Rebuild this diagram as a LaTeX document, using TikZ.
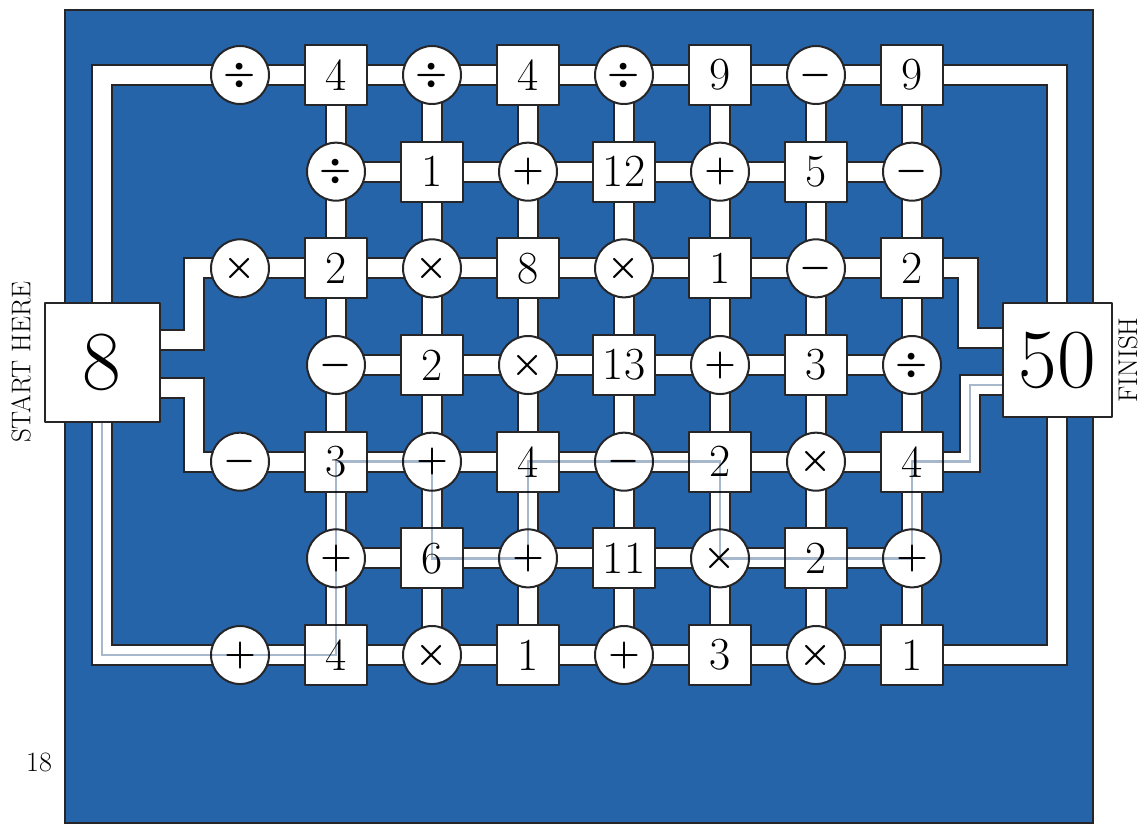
\RequirePackage{fix-cm}
\documentclass[tikz,border=0pt]{standalone}
\usepackage{amsmath,amssymb}
\usepackage{tikz}
\usetikzlibrary{calc,positioning}
\definecolor{panelblue}{RGB}{38,100,170}
\definecolor{inkline}{RGB}{38,38,40}
\definecolor{routegrey}{RGB}{168,184,204}
\pgfdeclarelayer{panel}
\pgfdeclarelayer{bars}
\pgfsetlayers{panel,bars,main}
\tikzset{
  every picture/.append style={line cap=round,line join=round},
  puz bar/.style={draw=inkline,line width=2pt,double=white,double distance=18pt,line cap=butt,line join=miter},
  puz op/.style={circle,draw=inkline,line width=2pt,fill=white,minimum size=58pt,inner sep=0pt,font=\fontsize{36}{40}\selectfont},
  puz num/.style={rectangle,draw=inkline,line width=2pt,fill=white,minimum width=62pt,minimum height=60pt,inner sep=0pt,font=\fontsize{46}{50}\selectfont},
  puz end/.style={rectangle,draw=inkline,line width=2pt,fill=white,inner sep=0pt,font=\fontsize{84}{90}\selectfont},
  puz route/.style={routegrey,line width=2.6pt,line cap=butt,line join=miter,blend mode=multiply},
  puz side/.style={font=\fontsize{27}{30}\selectfont,rotate=90}
}

\begin{document}
\begin{tikzpicture}[x=1pt,y=-1pt]
  \useasboundingbox (0,0) rectangle (1144,825);
  \begin{pgfonlayer}{panel}
    \fill[white] (0,0) rectangle (1144,825);
    \filldraw[fill=panelblue,draw=inkline,line width=2pt] (65,10) rectangle (1093,823);
  \end{pgfonlayer}
  \foreach \cells [count=\j from 0] in {
      {$\boldsymbol{\div}$,4,$\boldsymbol{\div}$,4,$\boldsymbol{\div}$,9,$\boldsymbol{-}$,9},
      {$\boldsymbol{\div}$,1,$\boldsymbol{+}$,12,$\boldsymbol{+}$,5,$\boldsymbol{-}$},
      {$\boldsymbol{\times}$,2,$\boldsymbol{\times}$,8,$\boldsymbol{\times}$,1,$\boldsymbol{-}$,2},
      {$\boldsymbol{-}$,2,$\boldsymbol{\times}$,13,$\boldsymbol{+}$,3,$\boldsymbol{\div}$},
      {$\boldsymbol{-}$,3,$\boldsymbol{+}$,4,$\boldsymbol{-}$,2,$\boldsymbol{\times}$,4},
      {$\boldsymbol{+}$,6,$\boldsymbol{+}$,11,$\boldsymbol{\times}$,2,$\boldsymbol{+}$},
      {$\boldsymbol{+}$,4,$\boldsymbol{\times}$,1,$\boldsymbol{+}$,3,$\boldsymbol{\times}$,1}}{
    \foreach \lbl [count=\k from 0] in \cells {
      \pgfmathtruncatemacro\i{\k+mod(\j,2)}
      \pgfmathtruncatemacro\odd{mod(\i+\j,2)}
      \ifnum\odd=0
        \node[puz op] (n\i\j) at ({240+96*\i},{75+96.67*\j}) {\lbl};
      \else
        \node[puz num] (n\i\j) at ({240+96*\i},{75+96.67*\j}) {\lbl};
      \fi
    }
  }
  \node[puz end,minimum width=115pt,minimum height=119pt] (start) at (102,362) {8};
  \node[puz end,minimum width=109pt,minimum height=114pt] (finish) at (1057,360) {50};
  \coordinate (kL1) at (194,340);
  \coordinate (kL2) at (194,388);
  \coordinate (kR1) at (968,338);
  \coordinate (kR2) at (970,385);
  \begin{pgfonlayer}{bars}
    \foreach \j in {0,...,6}{
      \pgfmathtruncatemacro\ifirst{mod(\j,2)}
      \foreach \i in {\ifirst,...,6}{
        \pgfmathtruncatemacro\inext{\i+1}
        \draw[puz bar] (n\i\j.center) -- (n\inext\j.center);
      }
    }
    \foreach \i in {1,...,7}
      \foreach \j in {0,...,5}{
        \pgfmathtruncatemacro\jnext{\j+1}
        \draw[puz bar] (n\i\j.center) -- (n\i\jnext.center);
      }
    \draw[puz bar] (start.center) |- (n00.center);
    \draw[puz bar] (start.center) |- (n06.center);
    \draw[puz bar] (finish.center) |- (n70.center);
    \draw[puz bar] (finish.center) |- (n76.center);
    \draw[puz bar] (start.center |- kL1) -- (kL1) |- (n02.center);
    \draw[puz bar] (start.center |- kL2) -- (kL2) |- (n04.center);
    \draw[puz bar] (n72.center) -| (kR1) -- (finish.center |- kR1);
    \draw[puz bar] (n74.center) -| (kR2) -- (finish.center |- kR2);
  \end{pgfonlayer}
  \draw[puz route] (start.south) |- (n16.center) -- (n14.center) -- (n24.center)
    -- (n25.center) -- (n35.center) -- (n34.center) -- (n54.center) -- (n55.center)
    -- (n75.center) -- (n74.center) -| (kR2) -- (finish.west |- kR2);
  \node[puz side] (starttxt) at (21,362) {START HERE};
  \node[puz side] (finishtxt) at (1128,360) {FINISH};
  \node[font=\fontsize{28}{30}\selectfont] (pageno) at (39,762) {18};
\end{tikzpicture}
\end{document}
